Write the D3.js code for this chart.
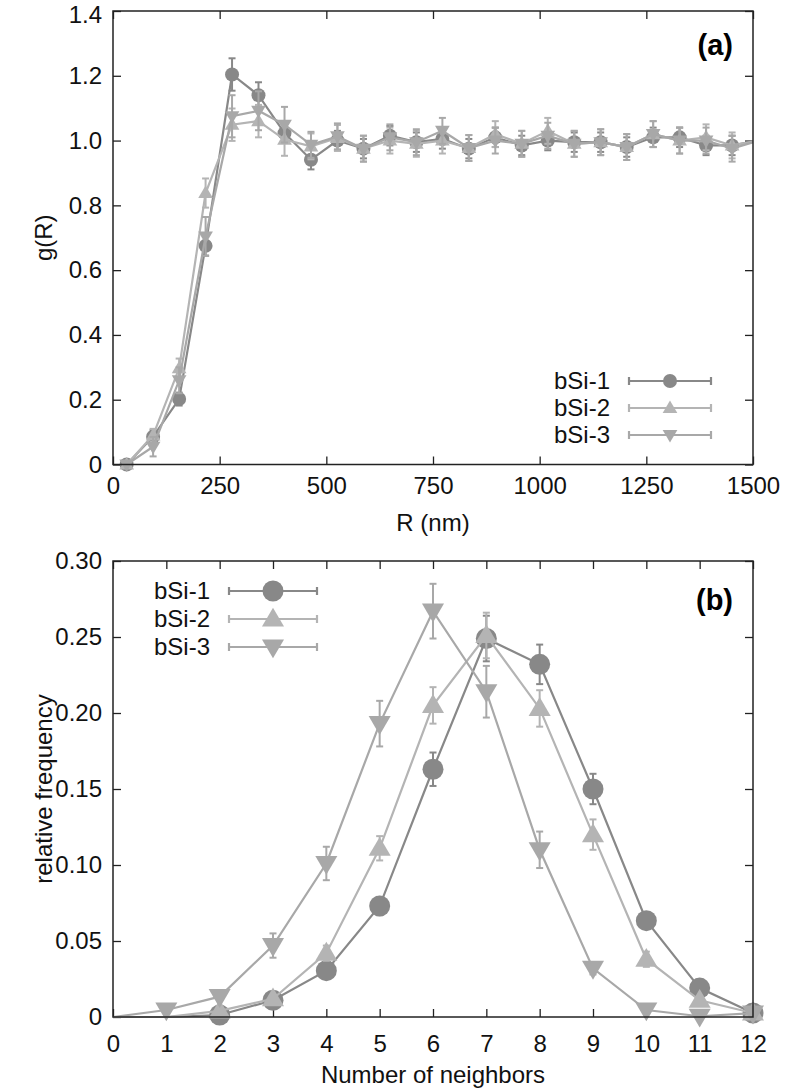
<!DOCTYPE html>
<html>
<head>
<meta charset="utf-8">
<script src="https://cdn.jsdelivr.net/npm/d3@7"></script>
<style>
  html, body { margin: 0; padding: 0; background: #fff; }
  svg { display: block; font-family: "Liberation Sans", Arial, Helvetica, sans-serif; }
</style>
</head>
<body>
<div id="chart"></div>
<script>
// ---------- Panel (a): pair correlation g(R) ----------
const R_NM = [32, 94, 155, 217, 279, 341, 402, 464, 526, 587, 649, 711, 772, 834, 896, 958, 1019, 1081, 1143, 1204, 1266, 1328, 1390, 1451, 1513];
const G_BSI1 = [0.0, 0.086, 0.202, 0.675, 1.204, 1.140, 1.023, 0.941, 1.000, 0.975, 1.015, 0.995, 1.005, 0.975, 1.010, 0.985, 1.000, 0.995, 0.995, 0.980, 1.010, 1.010, 0.985, 0.985, 1.000];
const G_BSI2 = [0.0, 0.090, 0.297, 0.838, 1.049, 1.060, 1.003, 0.982, 1.008, 0.975, 1.000, 0.990, 1.000, 0.977, 1.020, 0.990, 1.030, 0.990, 0.995, 0.980, 1.020, 1.000, 1.010, 0.985, 1.000];
const G_BSI3 = [0.0, 0.055, 0.260, 0.704, 1.075, 1.092, 1.049, 0.987, 1.013, 0.975, 1.010, 0.995, 1.030, 0.977, 1.000, 0.990, 1.015, 0.990, 0.995, 0.980, 1.020, 1.000, 1.000, 0.975, 1.000];
const G_ERR1 = [0.005, 0.02, 0.02, 0.03, 0.05, 0.04, 0.03, 0.03, 0.03, 0.03, 0.03, 0.03, 0.03, 0.03, 0.03, 0.03, 0.03, 0.03, 0.03, 0.03, 0.03, 0.03, 0.03, 0.03, 0.03];
const G_ERR2 = [0.005, 0.02, 0.03, 0.045, 0.05, 0.05, 0.05, 0.04, 0.04, 0.04, 0.04, 0.04, 0.04, 0.04, 0.04, 0.04, 0.04, 0.04, 0.04, 0.04, 0.04, 0.04, 0.04, 0.04, 0.04];
const G_ERR3 = [0.005, 0.03, 0.04, 0.06, 0.065, 0.06, 0.055, 0.04, 0.04, 0.04, 0.04, 0.04, 0.04, 0.04, 0.04, 0.04, 0.04, 0.04, 0.04, 0.04, 0.04, 0.04, 0.04, 0.04, 0.04];
const R_TICKS = [0, 250, 500, 750, 1000, 1250, 1500];
const G_TICKS = [0, 0.2, 0.4, 0.6, 0.8, 1.0, 1.2, 1.4];

// ---------- Panel (b): number of neighbors ----------
const N_NEIGH = [0, 1, 2, 3, 4, 5, 6, 7, 8, 9, 10, 11, 12];
const F_BSI1 = [0, 0, 0.0013, 0.011, 0.0305, 0.073, 0.163, 0.249, 0.232, 0.150, 0.0634, 0.019, 0.0026];
const F_BSI2 = [0, 0, 0.004, 0.012, 0.042, 0.111, 0.205, 0.251, 0.203, 0.120, 0.038, 0.011, 0.0026];
const F_BSI3 = [0, 0.0046, 0.0134, 0.047, 0.101, 0.193, 0.267, 0.214, 0.110, 0.032, 0.0046, 0.0005, 0.0026];
const F_ERR1 = [0, 0, 0.001, 0.002, 0.003, 0.006, 0.011, 0.015, 0.013, 0.010, 0.004, 0.002, 0.001];
const F_ERR2 = [0, 0, 0.001, 0.002, 0.005, 0.008, 0.012, 0.015, 0.012, 0.010, 0.005, 0.002, 0.001];
const F_ERR3 = [0, 0.001, 0.002, 0.008, 0.011, 0.015, 0.018, 0.017, 0.012, 0.004, 0.001, 0.001, 0.001];
const N_TICKS = [0, 1, 2, 3, 4, 5, 6, 7, 8, 9, 10, 11, 12];
const F_TICKS = [0, 0.05, 0.10, 0.15, 0.20, 0.25, 0.30];

const SERIES_NAMES = ["bSi-1", "bSi-2", "bSi-3"];
const SERIES_COLORS = ["#888888", "#b4b4b4", "#a8a8a8"];
const SERIES_SHAPES = ["circle", "up", "down"];

const W = 786, H = 1090;
const svg = d3.select("#chart").append("svg").attr("width", W).attr("height", H);

function markerPath(shape, s) {
  if (shape === "circle") {
    const r = s / 2;
    return `M${-r},0A${r},${r} 0 1,0 ${r},0A${r},${r} 0 1,0 ${-r},0Z`;
  }
  const w = s * 1.05, h = s * 0.9;
  if (shape === "up") return `M0,${-h * 0.6}L${w / 2},${h * 0.4}L${-w / 2},${h * 0.4}Z`;
  return `M0,${h * 0.6}L${w / 2},${-h * 0.4}L${-w / 2},${-h * 0.4}Z`;
}

function panel(cfg) {
  const x = d3.scaleLinear().domain(cfg.xDomain).range([cfg.left, cfg.right]);
  const y = d3.scaleLinear().domain(cfg.yDomain).range([cfg.bottom, cfg.top]);
  const g = svg.append("g");
  const clipId = "clip" + cfg.id;
  svg.append("clipPath").attr("id", clipId).append("rect")
    .attr("x", cfg.left).attr("y", cfg.top - 40)
    .attr("width", cfg.right - cfg.left).attr("height", cfg.bottom - cfg.top + 80);

  const fs = "24px";
  const ax = g.append("g").attr("transform", `translate(0,${cfg.bottom})`)
    .call(d3.axisBottom(x).tickValues(cfg.xTicks).tickSizeInner(-8).tickSizeOuter(0).tickPadding(cfg.xPad).tickFormat(d3.format("d")));
  const axT = g.append("g").attr("transform", `translate(0,${cfg.top})`)
    .call(d3.axisTop(x).tickValues(cfg.xTicks).tickSizeInner(-8).tickSizeOuter(0).tickFormat(""));
  const ay = g.append("g").attr("transform", `translate(${cfg.left},0)`)
    .call(d3.axisLeft(y).tickValues(cfg.yTicks).tickSizeInner(-8).tickSizeOuter(0).tickPadding(11).tickFormat(cfg.yFmt));
  const ayR = g.append("g").attr("transform", `translate(${cfg.right},0)`)
    .call(d3.axisRight(y).tickValues(cfg.yTicks).tickSizeInner(-8).tickSizeOuter(0).tickFormat(""));
  [ax, axT, ay, ayR].forEach(a => {
    a.select(".domain").remove();
    a.selectAll(".tick line").attr("stroke", "#222").attr("stroke-width", 1.3);
    a.selectAll("text").attr("font-size", fs).attr("fill", "#111")
      .style("font-family", '"Liberation Sans", Arial, sans-serif');
  });
  if (cfg.topLabelDy) {
    ay.selectAll(".tick text").filter(d => d === cfg.yDomain[1]).attr("dy", cfg.topLabelDy);
  }

  cfg.series.forEach((s, si) => {
    const col = SERIES_COLORS[si];
    const pts = cfg.xs.map((xv, i) => ({ x: xv, y: s.v[i], e: s.e[i] }));
    const sg = g.append("g");
    sg.append("path").datum(pts)
      .attr("clip-path", `url(#${clipId})`)
      .attr("fill", "none").attr("stroke", col).attr("stroke-width", 2.2)
      .attr("d", d3.line().x(d => x(d.x)).y(d => y(d.y)));
    const vis = pts.filter(d => d.x <= cfg.xDomain[1] && (cfg.showZero ? d.y >= 0 : d.y > 0));
    const cap = cfg.cap;
    const eb = sg.selectAll("g.eb").data(vis.filter(d => d.e > 0)).join("g")
      .attr("stroke", col).attr("stroke-width", 2);
    eb.append("line").attr("x1", d => x(d.x)).attr("x2", d => x(d.x))
      .attr("y1", d => y(Math.max(0, d.y - d.e))).attr("y2", d => y(d.y + d.e));
    eb.append("line").attr("x1", d => x(d.x) - cap).attr("x2", d => x(d.x) + cap)
      .attr("y1", d => y(Math.max(0, d.y - d.e))).attr("y2", d => y(Math.max(0, d.y - d.e)));
    eb.append("line").attr("x1", d => x(d.x) - cap).attr("x2", d => x(d.x) + cap)
      .attr("y1", d => y(d.y + d.e)).attr("y2", d => y(d.y + d.e));
    sg.selectAll("path.mk").data(vis).join("path")
      .attr("class", "mk")
      .attr("transform", d => `translate(${x(d.x)},${y(d.y)})`)
      .attr("d", markerPath(SERIES_SHAPES[si], cfg.mSize))
      .attr("fill", col);
  });

  g.append("rect").attr("x", cfg.left).attr("y", cfg.top)
    .attr("width", cfg.right - cfg.left).attr("height", cfg.bottom - cfg.top)
    .attr("fill", "none").attr("stroke", "#222").attr("stroke-width", 1.5);

  g.append("text").attr("x", (cfg.left + cfg.right) / 2).attr("y", cfg.xTitleY)
    .attr("text-anchor", "middle").attr("font-size", fs).attr("fill", "#111").text(cfg.xLabel);
  g.append("text").attr("transform", `translate(52,${(cfg.top + cfg.bottom) / 2}) rotate(-90)`)
    .attr("text-anchor", "middle").attr("font-size", fs).attr("fill", "#111").text(cfg.yLabel);

  g.append("text").attr("x", cfg.right - 20).attr("y", cfg.tagY)
    .attr("text-anchor", "end").attr("font-size", "29px").attr("font-weight", "bold")
    .attr("fill", "#000").text(cfg.tag);

  const L = cfg.legend;
  SERIES_NAMES.forEach((name, si) => {
    const ly = L.y0 + si * L.dy;
    const col = SERIES_COLORS[si];
    g.append("text").attr("x", L.textX).attr("y", ly).attr("dy", "0.35em")
      .attr("text-anchor", "end").attr("font-size", fs).attr("fill", "#111").text(name);
    const lg = g.append("g").attr("stroke", col).attr("stroke-width", 2.2);
    lg.append("line").attr("x1", L.x1).attr("x2", L.x2).attr("y1", ly).attr("y2", ly);
    lg.append("line").attr("x1", L.x1).attr("x2", L.x1).attr("y1", ly - 4).attr("y2", ly + 4);
    lg.append("line").attr("x1", L.x2).attr("x2", L.x2).attr("y1", ly - 4).attr("y2", ly + 4);
    g.append("path").attr("transform", `translate(${(L.x1 + L.x2) / 2},${ly})`)
      .attr("d", markerPath(SERIES_SHAPES[si], cfg.mSize)).attr("fill", col);
  });
}

const fmtG = d => d === 0 ? "0" : d3.format(".1f")(d);
const fmtF = d => d === 0 ? "0" : d3.format(".2f")(d);

panel({
  id: "a", left: 113, right: 753, top: 11, bottom: 464.5,
  xDomain: [0, 1500], yDomain: [0, 1.4], xTicks: R_TICKS, yTicks: G_TICKS, yFmt: fmtG,
  topLabelDy: "0.46em",
  xPad: 12, xTitleY: 531, xLabel: "R (nm)", yLabel: "g(R)", tag: "(a)", tagY: 55,
  xs: R_NM, showZero: true,
  series: [{ v: G_BSI1, e: G_ERR1 }, { v: G_BSI2, e: G_ERR2 }, { v: G_BSI3, e: G_ERR3 }],
  mSize: 14, cap: 3.5,
  legend: { textX: 610, y0: 381, dy: 27, x1: 629, x2: 711 }
});

panel({
  id: "b", left: 113, right: 753, top: 561, bottom: 1017,
  xDomain: [0, 12], yDomain: [0, 0.30], xTicks: N_TICKS, yTicks: F_TICKS, yFmt: fmtF,
  xPad: 18, xTitleY: 1083, xLabel: "Number of neighbors", yLabel: "relative frequency", tag: "(b)", tagY: 610,
  xs: N_NEIGH, showZero: false,
  series: [{ v: F_BSI1, e: F_ERR1 }, { v: F_BSI2, e: F_ERR2 }, { v: F_BSI3, e: F_ERR3 }],
  mSize: 21, cap: 3.5,
  legend: { textX: 210, y0: 591, dy: 28, x1: 229, x2: 317 }
});
</script>
</body>
</html>
